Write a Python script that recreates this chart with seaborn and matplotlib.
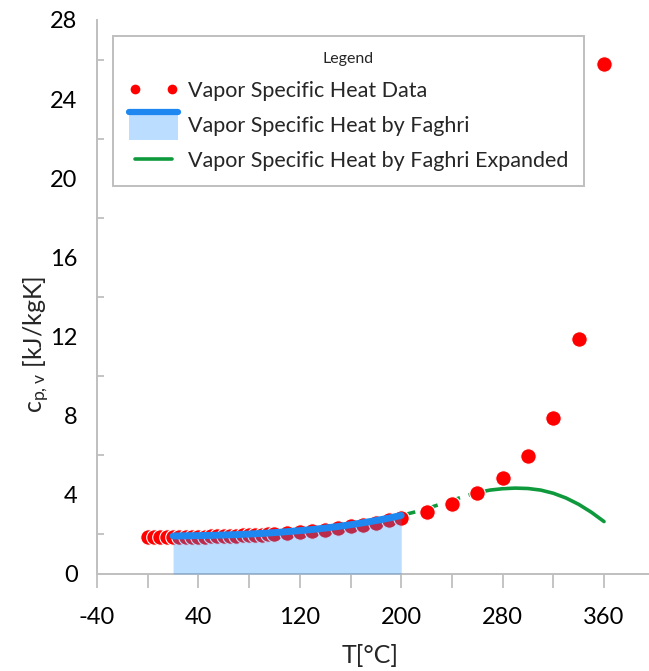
import numpy as np
import pandas as pd
import seaborn as sns
import matplotlib
matplotlib.use("Agg")
import matplotlib.pyplot as plt
from matplotlib.legend_handler import HandlerBase
from matplotlib.patches import Rectangle
from matplotlib.lines import Line2D
from matplotlib.ticker import FixedLocator

# ---------------- data ----------------
data_T = [0.01, 5, 10, 15, 20, 25, 30, 35, 40, 45, 50, 55, 60, 65, 70, 75, 80, 85, 90, 95, 100,
          110, 120, 130, 140, 150, 160, 170, 180, 190, 200,
          220, 240, 260, 280, 300, 320, 340, 360]
data_cp = [1.854, 1.857, 1.862, 1.863, 1.867, 1.870, 1.875, 1.880, 1.885, 1.892, 1.900, 1.908,
           1.916, 1.926, 1.936, 1.948, 1.962, 1.977, 1.993, 2.010, 2.029,
           2.071, 2.120, 2.177, 2.244, 2.314, 2.420, 2.490, 2.590, 2.710, 2.840,
           3.110, 3.520, 4.070, 4.835, 5.980, 7.900, 11.870, 25.800]

faghri_T = [20, 30, 40, 50, 60, 70, 80, 90, 100, 110, 120, 130, 140, 150, 160, 170, 180, 190, 200]
faghri_cp = [1.92, 1.93, 1.94, 1.95, 1.97, 1.99, 2.02, 2.05, 2.09, 2.14, 2.19, 2.25, 2.32, 2.40,
             2.49, 2.59, 2.70, 2.82, 2.96]

exp_T_dash = [200, 210, 220, 230, 240, 250, 260]
exp_cp_dash = [2.96, 3.12, 3.30, 3.51, 3.72, 3.93, 4.11]
exp_T_solid = [260, 270, 280, 290, 300, 310, 320, 330, 340, 350, 360]
exp_cp_solid = [4.11, 4.24, 4.31, 4.34, 4.32, 4.24, 4.08, 3.84, 3.52, 3.12, 2.65]

x_major = [-40, 40, 120, 200, 280, 360]
x_major_labels = ["-40", "40", "120", "200", "280", "360"]
x_minor = [0, 80, 160, 240, 320, 400]
y_major = [0, 4, 8, 12, 16, 20, 24, 28]
y_minor = [2, 6, 10, 14, 18, 22, 26]

labels = ["Vapor Specific Heat Data", "Vapor Specific Heat by Faghri",
          "Vapor Specific Heat by Faghri Expanded"]

# ---------------- style ----------------
RED = "#FF0000"
BLUE = "#1E88F0"
FILL = "#1E90FF"
GREEN = "#0E9A3C"
GRAY = "#BFBFBF"

sns.set_theme(style="white")
plt.rcParams["font.family"] = ["Lato", "DejaVu Sans"]
plt.rcParams["mathtext.default"] = "regular"

fig = plt.figure(figsize=(6.49, 6.71), dpi=100)
ax = fig.add_axes([0.1495, 0.1446, 0.8593, 0.8256])

df_data = pd.DataFrame({"T": data_T, "cp": data_cp})
df_f = pd.DataFrame({"T": faghri_T, "cp": faghri_cp})
df_ed = pd.DataFrame({"T": exp_T_dash, "cp": exp_cp_dash})
df_es = pd.DataFrame({"T": exp_T_solid, "cp": exp_cp_solid})

sns.lineplot(data=df_ed, x="T", y="cp", ax=ax, color=GREEN, lw=2.6, zorder=1,
             sort=False, linestyle=(0, (4, 2.5)))
sns.lineplot(data=df_es, x="T", y="cp", ax=ax, color=GREEN, lw=2.6, zorder=1, sort=False)
sns.scatterplot(data=df_data, x="T", y="cp", ax=ax, color=RED, s=125,
                edgecolor="white", linewidth=0.8, zorder=2)
ax.fill_between(faghri_T, 0, faghri_cp, color=FILL, alpha=0.3, lw=0, zorder=3)
sns.lineplot(data=df_f, x="T", y="cp", ax=ax, color=BLUE, lw=5.0, zorder=4,
             sort=False, solid_capstyle="round")

ax.set_xlim(-40, 400)
ax.set_ylim(0, 28)

for s in ["top", "right"]:
    ax.spines[s].set_visible(False)
for s in ["left", "bottom"]:
    ax.spines[s].set_color(GRAY)
    ax.spines[s].set_linewidth(1.4)

ax.xaxis.set_major_locator(FixedLocator(x_major))
ax.set_xticklabels(x_major_labels)
ax.xaxis.set_minor_locator(FixedLocator(x_minor))
ax.tick_params(axis="x", which="both", direction="out", length=10, width=1.3,
               color=GRAY, labelsize=17, pad=14, labelcolor="black")
ax.yaxis.set_major_locator(FixedLocator(y_major))
ax.yaxis.set_minor_locator(FixedLocator(y_minor))
ax.tick_params(axis="y", which="major", length=0, labelsize=17, pad=14, labelcolor="black")
ax.tick_params(axis="y", which="minor", direction="in", length=5, width=1.3, color=GRAY)
ax.tick_params(left=True, bottom=True, which="both")

ax.set_xlabel("T[°C]", fontsize=18)
ax.xaxis.set_label_coords(0.49, -0.126)
ax.set_ylabel(r"c$_{p,v}$ [kJ/kgK]", fontsize=18)
ax.yaxis.set_label_coords(-0.08, 0.414)


class FillLineHandler(HandlerBase):
    def create_artists(self, legend, orig_handle, xdescent, ydescent, width, height,
                       fontsize, trans):
        cy = -ydescent + height / 2 - fontsize * 0.08
        h = fontsize * 1.3
        rect = Rectangle((-xdescent, cy - h / 2), width, h, facecolor=FILL, alpha=0.3,
                         edgecolor="none", transform=trans)
        line = Line2D([-xdescent, -xdescent + width], [cy + h / 2, cy + h / 2],
                      color=BLUE, lw=4.5, solid_capstyle="round", transform=trans)
        return [rect, line]


h_data = Line2D([], [], ls="none", marker="o", color=RED, markersize=7,
                markeredgewidth=0)
h_fill = Rectangle((0, 0), 1, 1)
h_green = Line2D([], [], color=GREEN, lw=2.6)

leg = ax.legend([h_data, h_fill, h_green], labels, title="Legend",
                loc="upper left", bbox_to_anchor=(0.0287, 0.971), borderaxespad=0,
                numpoints=2, fontsize=15.5, title_fontsize=11.5,
                handler_map={Rectangle: FillLineHandler()},
                handlelength=2.3, handletextpad=0.45, labelspacing=0.7,
                borderpad=0.72, frameon=True, fancybox=False, framealpha=1)
leg.get_frame().set_edgecolor(GRAY)
leg.get_frame().set_linewidth(1.4)

fig.savefig("out.png", dpi=100)
